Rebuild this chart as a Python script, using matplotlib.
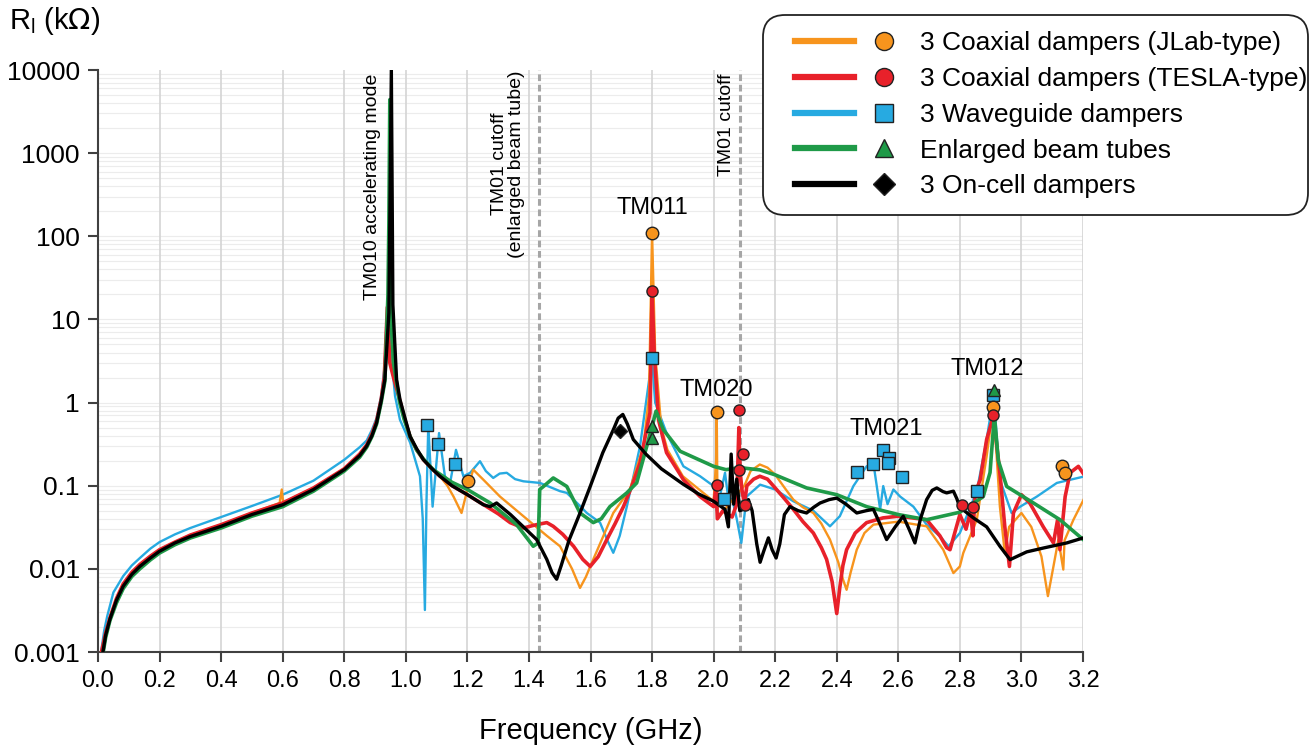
import numpy as np
import matplotlib.pyplot as plt
from matplotlib.lines import Line2D
from matplotlib.patches import FancyBboxPatch
from matplotlib.transforms import IdentityTransform
from matplotlib.legend_handler import HandlerTuple
from matplotlib.ticker import FixedLocator, NullFormatter

plt.rcParams['font.family'] = ['Liberation Sans', 'DejaVu Sans']

# longitudinal impedance spectra, frequency in GHz, impedance in kOhm
jlab_f = [0.01, 0.025, 0.039, 0.06, 0.082, 0.11, 0.136, 0.17, 0.2, 0.25, 0.3, 0.4, 0.5, 0.59, 0.597, 0.603, 0.61,
          0.7, 0.8, 0.85, 0.873, 0.89, 0.905, 0.92, 0.93, 0.942, 0.95, 0.96, 0.981, 0.995, 1.014, 1.035, 1.057,
          1.085, 1.111, 1.135, 1.155, 1.181, 1.2, 1.219, 1.252, 1.306, 1.382, 1.458, 1.501, 1.54, 1.566, 1.585,
          1.609, 1.674, 1.728, 1.772, 1.79, 1.8, 1.81, 1.83, 1.85, 1.9, 2.0, 2.008, 2.01, 2.013, 2.05, 2.1, 2.12,
          2.15, 2.175, 2.2, 2.23, 2.259, 2.29, 2.324, 2.35, 2.378, 2.405, 2.42, 2.432, 2.445, 2.465, 2.49, 2.519,
          2.6, 2.692, 2.746, 2.779, 2.8, 2.811, 2.855, 2.887, 2.909, 2.93, 2.946, 2.96, 3.0, 3.032, 3.065, 3.086,
          3.104, 3.12, 3.136, 3.14, 3.169, 3.207]
jlab_r = [0.00095, 0.0017, 0.0026, 0.0044, 0.0066, 0.0091, 0.0113, 0.0142, 0.017, 0.021, 0.0255, 0.034, 0.047,
          0.062, 0.09, 0.056, 0.065, 0.094, 0.16, 0.24, 0.31, 0.42, 0.6, 1.1, 2.0, 10, 3, 2.0, 1.05, 0.65, 0.39,
          0.27, 0.206, 0.16, 0.13, 0.1, 0.074, 0.047, 0.09, 0.156, 0.118, 0.074, 0.043, 0.025, 0.0187, 0.01,
          0.0059, 0.008, 0.013, 0.047, 0.09, 0.30, 1.2, 110, 4, 0.5, 0.27, 0.13, 0.065, 0.2, 0.76, 0.04, 0.06,
          0.1, 0.15, 0.18, 0.165, 0.136, 0.095, 0.068, 0.055, 0.047, 0.035, 0.0225, 0.012, 0.0075, 0.0056, 0.009,
          0.017, 0.027, 0.034, 0.037, 0.0325, 0.017, 0.0089, 0.0107, 0.0155, 0.039, 0.227, 0.9, 0.056, 0.0155,
          0.032, 0.047, 0.032, 0.0141, 0.0047, 0.0107, 0.0225, 0.0098, 0.022, 0.039, 0.074]

tesla_f = [0.01, 0.025, 0.039, 0.06, 0.082, 0.11, 0.136, 0.17, 0.2, 0.25, 0.3, 0.4, 0.5, 0.6, 0.7, 0.8, 0.85,
           0.873, 0.89, 0.905, 0.92, 0.93, 0.94, 0.948, 0.96, 0.981, 0.995, 1.014, 1.035, 1.057, 1.085, 1.111,
           1.15, 1.2, 1.25, 1.3, 1.339, 1.382, 1.41, 1.425, 1.458, 1.479, 1.51, 1.545, 1.575, 1.599, 1.625, 1.653,
           1.68, 1.707, 1.735, 1.761, 1.793, 1.8, 1.807, 1.821, 1.847, 1.902, 1.956, 2.0, 2.008, 2.012, 2.03,
           2.06, 2.075, 2.082, 2.086, 2.092, 2.1, 2.108, 2.13, 2.15, 2.175, 2.2, 2.23, 2.259, 2.29, 2.324, 2.35,
           2.367, 2.385, 2.4, 2.41, 2.42, 2.432, 2.46, 2.497, 2.55, 2.6, 2.692, 2.735, 2.757, 2.768, 2.8, 2.82,
           2.835, 2.842, 2.85, 2.866, 2.887, 2.909, 2.93, 2.946, 2.961, 2.974, 3.0, 3.027, 3.071, 3.104, 3.118,
           3.125, 3.142, 3.158, 3.185, 3.207]
tesla_r = [0.00095, 0.0017, 0.0026, 0.0044, 0.0066, 0.0091, 0.0113, 0.0142, 0.017, 0.021, 0.0255, 0.034, 0.047,
           0.062, 0.094, 0.16, 0.24, 0.31, 0.42, 0.6, 1.1, 2.0, 14, 3, 2.0, 1.05, 0.65, 0.39, 0.27, 0.206, 0.16,
           0.13, 0.1, 0.078, 0.06, 0.046, 0.036, 0.031, 0.033, 0.034, 0.036, 0.0325, 0.026, 0.0187, 0.013, 0.0107,
           0.014, 0.0225, 0.035, 0.056, 0.1, 0.188, 0.75, 21, 4, 0.62, 0.25, 0.118, 0.074, 0.056, 0.1, 0.04, 0.05,
           0.042, 0.06, 0.5, 0.15, 0.09, 0.06, 0.1, 0.12, 0.13, 0.12, 0.094, 0.07, 0.052, 0.037, 0.027, 0.018,
           0.013, 0.007, 0.0029, 0.006, 0.011, 0.017, 0.027, 0.036, 0.041, 0.043, 0.039, 0.025, 0.018, 0.017,
           0.045, 0.03, 0.05, 0.025, 0.082, 0.118, 0.36, 0.69, 0.143, 0.032, 0.0107, 0.047, 0.078, 0.062, 0.032,
           0.0205, 0.04, 0.017, 0.074, 0.143, 0.171, 0.13]

wg_f = [0.01, 0.02, 0.03, 0.05, 0.082, 0.11, 0.136, 0.17, 0.2, 0.25, 0.3, 0.4, 0.5, 0.6, 0.7, 0.8, 0.85, 0.873,
        0.89, 0.905, 0.92, 0.93, 0.945, 0.952, 0.965, 0.981, 1.014, 1.046, 1.055, 1.062, 1.067, 1.073, 1.087,
        1.108, 1.127, 1.144, 1.163, 1.187, 1.209, 1.241, 1.26, 1.284, 1.305, 1.328, 1.355, 1.382, 1.436, 1.501,
        1.523, 1.56, 1.588, 1.631, 1.655, 1.674, 1.695, 1.718, 1.761, 1.8, 1.81, 1.847, 1.902, 1.956, 2.0, 2.01,
        2.037, 2.05, 2.06, 2.075, 2.09, 2.107, 2.151, 2.2, 2.259, 2.324, 2.378, 2.41, 2.454, 2.497, 2.519, 2.541,
        2.551, 2.565, 2.584, 2.606, 2.649, 2.692, 2.736, 2.763, 2.8, 2.855, 2.887, 2.91, 2.93, 2.968, 2.996,
        3.05, 3.115, 3.207]
wg_r = [0.001, 0.0018, 0.0027, 0.0052, 0.0082, 0.011, 0.0135, 0.0175, 0.021, 0.026, 0.031, 0.042, 0.057, 0.078,
        0.115, 0.205, 0.29, 0.35, 0.47, 0.65, 1.2, 2.5, 20, 4, 1.2, 0.62, 0.33, 0.13, 0.04, 0.0032, 0.06, 0.54,
        0.056, 0.43, 0.13, 0.108, 0.27, 0.13, 0.143, 0.197, 0.15, 0.124, 0.14, 0.143, 0.12, 0.113, 0.108, 0.086,
        0.082, 0.06, 0.047, 0.036, 0.022, 0.0156, 0.025, 0.056, 0.30, 3.4, 1.0, 0.43, 0.171, 0.13, 0.099, 0.05,
        0.143, 0.06, 0.07, 0.04, 0.0205, 0.074, 0.103, 0.09, 0.065, 0.05, 0.0325, 0.043, 0.099, 0.171, 0.188,
        0.052, 0.099, 0.06, 0.09, 0.074, 0.056, 0.034, 0.0245, 0.0187, 0.027, 0.086, 0.36, 1.25, 0.118, 0.047,
        0.056, 0.074, 0.108, 0.13]

ebt_f = [0.016, 0.025, 0.039, 0.06, 0.082, 0.11, 0.136, 0.17, 0.2, 0.25, 0.3, 0.4, 0.5, 0.6, 0.7, 0.8, 0.85,
         0.873, 0.89, 0.905, 0.92, 0.932, 0.942, 0.945, 0.948, 0.952, 0.96, 0.98, 0.995, 1.014, 1.035, 1.057,
         1.089, 1.15, 1.2, 1.274, 1.36, 1.414, 1.43, 1.435, 1.45, 1.479, 1.523, 1.566, 1.609, 1.635, 1.663,
         1.718, 1.75, 1.783, 1.813, 1.837, 1.891, 2.0, 2.04, 2.086, 2.15, 2.2, 2.302, 2.4, 2.497, 2.6, 2.692,
         2.8, 2.876, 2.898, 2.912, 2.925, 2.952, 3.039, 3.125, 3.207]
ebt_r = [0.00095, 0.0015, 0.0024, 0.0039, 0.0058, 0.0081, 0.0100, 0.0128, 0.0155, 0.0195, 0.0235, 0.031, 0.043,
         0.056, 0.086, 0.15, 0.22, 0.29, 0.39, 0.55, 1.0, 1.8, 20, 150, 4400, 10, 3, 1.0, 0.62, 0.39, 0.27, 0.21,
         0.156, 0.11, 0.09, 0.062, 0.034, 0.0187, 0.0205, 0.09, 0.10, 0.124, 0.098, 0.047, 0.036, 0.04, 0.056,
         0.082, 0.108, 0.30, 0.79, 0.47, 0.26, 0.171, 0.156, 0.165, 0.155, 0.135, 0.094, 0.078, 0.056, 0.045,
         0.039, 0.048, 0.074, 0.144, 0.7, 0.2, 0.098, 0.062, 0.039, 0.0215]

oncell_f = [0.016, 0.025, 0.039, 0.06, 0.082, 0.11, 0.136, 0.17, 0.2, 0.25, 0.3, 0.4, 0.5, 0.6, 0.7, 0.8, 0.85,
            0.873, 0.89, 0.905, 0.92, 0.932, 0.945, 0.953, 0.958, 0.97, 0.981, 0.995, 1.014, 1.035, 1.057, 1.085,
            1.111, 1.15, 1.2, 1.252, 1.274, 1.295, 1.34, 1.382, 1.425, 1.458, 1.475, 1.49, 1.505, 1.53, 1.566,
            1.6, 1.64, 1.674, 1.69, 1.705, 1.72, 1.739, 1.78, 1.83, 1.9, 1.95, 2.0, 2.037, 2.048, 2.057, 2.065,
            2.075, 2.085, 2.096, 2.113, 2.125, 2.14, 2.151, 2.162, 2.178, 2.19, 2.203, 2.215, 2.23, 2.248, 2.275,
            2.302, 2.325, 2.346, 2.375, 2.4, 2.43, 2.465, 2.495, 2.519, 2.54, 2.562, 2.59, 2.616, 2.635, 2.654,
            2.672, 2.692, 2.71, 2.725, 2.745, 2.757, 2.779, 2.79, 2.8, 2.844, 2.887, 2.93, 2.963, 3.017, 3.071,
            3.147, 3.2]
oncell_r = [0.001, 0.0016, 0.0025, 0.0042, 0.0062, 0.0086, 0.0107, 0.0135, 0.0163, 0.0205, 0.0245, 0.0325,
            0.045, 0.059, 0.09, 0.156, 0.23, 0.30, 0.40, 0.57, 1.05, 1.9, 12, 10000, 15, 1.9, 1.09, 0.7, 0.39,
            0.28, 0.206, 0.16, 0.13, 0.1, 0.078, 0.059, 0.056, 0.062, 0.045, 0.032, 0.0225, 0.013, 0.009, 0.0075,
            0.011, 0.022, 0.047, 0.1, 0.25, 0.47, 0.65, 0.72, 0.55, 0.36, 0.24, 0.16, 0.105, 0.08, 0.065, 0.052,
            0.032, 0.24, 0.06, 0.12, 0.05, 0.052, 0.068, 0.05, 0.02, 0.012, 0.016, 0.0236, 0.017, 0.0135, 0.02,
            0.045, 0.056, 0.05, 0.047, 0.055, 0.062, 0.068, 0.071, 0.06, 0.047, 0.05, 0.052, 0.035, 0.0225, 0.032,
            0.043, 0.03, 0.0205, 0.04, 0.068, 0.088, 0.094, 0.085, 0.082, 0.086, 0.07, 0.055, 0.041, 0.032,
            0.0187, 0.0129, 0.016, 0.0178, 0.0205, 0.0235]

# mode markers
jlab_mf = [1.202, 1.8, 2.01, 2.909, 3.131, 3.142]
jlab_mr = [0.115, 111, 0.76, 0.88, 0.171, 0.143]
tesla_mf = [1.8, 2.012, 2.083, 2.096, 2.083, 2.101, 2.806, 2.842, 2.909]
tesla_mr = [22, 0.103, 0.81, 0.243, 0.156, 0.059, 0.059, 0.056, 0.70]
wg_mf = [1.069, 1.105, 1.16, 1.8, 2.034, 2.465, 2.517, 2.549, 2.571, 2.567, 2.611, 2.857, 2.909]
wg_mr = [0.54, 0.32, 0.18, 3.4, 0.07, 0.147, 0.184, 0.268, 0.214, 0.186, 0.128, 0.086, 1.25]
ebt_mf = [1.8, 1.8, 2.91]
ebt_mr = [0.52, 0.37, 1.43]
oncell_mf = [1.696]
oncell_mr = [0.45]

labels = ['3 Coaxial dampers (JLab-type)', '3 Coaxial dampers (TESLA-type)', '3 Waveguide dampers',
          'Enlarged beam tubes', '3 On-cell dampers']
colors = ['#F7941D', '#E8212A', '#27AAE1', '#1F9A48', '#000000']

W, H = 1311, 753
fig = plt.figure(figsize=(W / 100, H / 100), dpi=100)
ax = fig.add_axes([98 / W, 1 - 652 / H, 985 / W, 582 / H])

ax.set_yscale('log')
ax.set_xlim(0, 3.2)
ax.set_ylim(0.001, 10000)

# grid: light horizontal lines at every log step, vertical at each tick
for dec in range(-3, 4):
    for m in range(1, 10):
        ax.axhline(m * 10.0 ** dec, color='#ececec', lw=0.8, zorder=0)
for xv in np.arange(0.2, 3.21, 0.2):
    ax.axvline(xv, color='#d4d4d4', lw=1.2, zorder=0)

# cutoff frequencies
ax.axvline(1.433, color='#a6a6a6', lw=2.2, ls=(0, (2.2, 1.2)), zorder=1)
ax.axvline(2.086, color='#a6a6a6', lw=2.2, ls=(0, (2.2, 1.2)), zorder=1)

ax.plot(wg_f, wg_r, color=colors[2], lw=1.7, zorder=2)
ax.plot(jlab_f, jlab_r, color=colors[0], lw=1.7, zorder=3)
ax.plot(tesla_f, tesla_r, color=colors[1], lw=2.6, zorder=4)
ax.plot(ebt_f, ebt_r, color=colors[3], lw=2.6, zorder=5)
ax.plot(oncell_f, oncell_r, color=colors[4], lw=2.4, zorder=6)

mk = dict(ls='none', mec='#222222', mew=1.0, zorder=10)
ax.plot(wg_mf, wg_mr, marker='s', ms=8, mfc=colors[2], **mk)
ax.plot(jlab_mf, jlab_mr, marker='o', ms=9, mfc=colors[0], **mk)
ax.plot(tesla_mf, tesla_mr, marker='o', ms=8, mfc=colors[1], **mk)
ax.plot(ebt_mf, ebt_mr, marker='^', ms=9, mfc=colors[3], **mk)
ax.plot(oncell_mf, oncell_mr, marker='D', ms=7, mfc=colors[4], **mk)

# axes styling
for side in ['top', 'right']:
    ax.spines[side].set_visible(False)
for side in ['left', 'bottom']:
    ax.spines[side].set_color('#404040')
    ax.spines[side].set_linewidth(1.5)
ax.set_xticks(np.arange(0, 3.21, 0.2))
ax.set_xticklabels(['%.1f' % v for v in np.arange(0, 3.21, 0.2)])
yt = [0.001, 0.01, 0.1, 1, 10, 100, 1000, 10000]
ax.yaxis.set_major_locator(FixedLocator(yt))
ax.set_yticklabels(['0.001', '0.01', '0.1', '1', '10', '100', '1000', '10000'])
ax.yaxis.set_minor_formatter(NullFormatter())
ax.tick_params(axis='y', which='minor', length=0)
ax.tick_params(axis='both', which='major', length=7, width=1.5, color='#404040', pad=6)
ax.tick_params(axis='x', labelsize=17)
ax.tick_params(axis='y', labelsize=19)

ax.set_xlabel('Frequency (GHz)', fontsize=21, labelpad=18)
fig.text(0.007, 0.972, r'R$_\mathregular{l}$ (k$\Omega$)', fontsize=21, va='center', ha='left')

# mode labels
ax.text(1.8, 160, 'TM011', fontsize=17, ha='center', va='bottom')
ax.text(2.01, 1.05, 'TM020', fontsize=17, ha='center', va='bottom')
ax.text(2.56, 0.35, 'TM021', fontsize=17, ha='center', va='bottom')
ax.text(2.89, 1.85, 'TM012', fontsize=17, ha='center', va='bottom')
ax.text(0.893, 9000, 'TM010 accelerating mode', fontsize=14, rotation=90, ha='center', va='top')
ax.text(1.333, 55, 'TM01 cutoff\n(enlarged beam tube)', fontsize=14, rotation=90, ha='center', va='bottom',
        multialignment='center', linespacing=1.0)
ax.text(2.043, 9000, 'TM01 cutoff', fontsize=14, rotation=90, ha='center', va='top')

# legend: line sample followed by marker sample, inside an opaque rounded box
leg_markers = ['o', 'o', 's', '^', 'D']
handles = []
for c, m in zip(colors, leg_markers):
    ln = Line2D([], [], color=c, lw=4.5)
    pt = Line2D([], [], ls='none', marker=m, ms=13 if m != 'D' else 11, mfc=c, mec='#222222', mew=1.0)
    handles.append((ln, pt))
leg = fig.legend(handles, labels, handler_map={tuple: HandlerTuple(ndivide=2, pad=0)},
                 loc='upper left', bbox_to_anchor=(795 / W, 1 - 31 / H), borderaxespad=0, borderpad=0,
                 fontsize=19, handlelength=4.5, handletextpad=0.25, labelspacing=0.45, frameon=False)
leg.set_zorder(12)
box = FancyBboxPatch((763, H - 215), 545, 200, boxstyle='round,pad=0,rounding_size=22',
                     transform=IdentityTransform(), facecolor='white', edgecolor='#222222', lw=1.3,
                     zorder=11)
fig.add_artist(box)

fig.savefig('out.png', dpi=100)
